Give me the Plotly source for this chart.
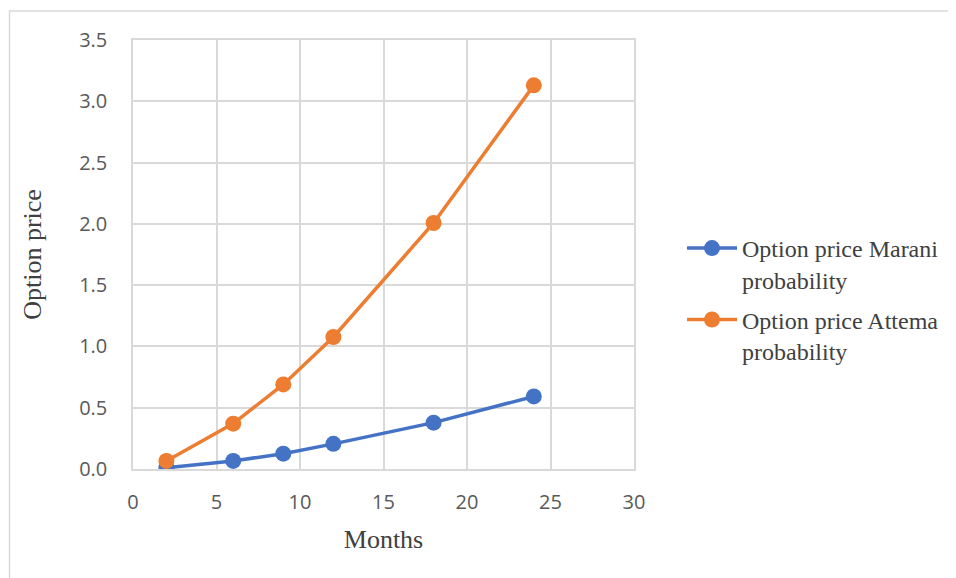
import plotly.graph_objects as go

months = [2, 6, 9, 12, 18, 24]
marani = [0.01, 0.066, 0.125, 0.205, 0.378, 0.592]
attema = [0.066, 0.37, 0.69, 1.077, 2.007, 3.13]
series_names = ["Option price Marani<br>probability", "Option price Attema<br>probability"]

fig = go.Figure()
fig.add_trace(go.Scatter(x=months, y=marani, mode="lines+markers", name=series_names[0],
                         legendgroup="marani",
                         line=dict(color="#4472C4", width=3.5),
                         marker=dict(color="#4472C4", size=16)))
fig.add_trace(go.Scatter(x=months, y=attema, mode="lines+markers", name=series_names[1],
                         legendgroup="attema",
                         line=dict(color="#ED7D31", width=3.5),
                         marker=dict(color="#ED7D31", size=16)))

# page has an 8px body margin; work in figure coordinates
OFF = 8
W, H = 956 - OFF, 578 - OFF
L, T = 133 - OFF, 40 - OFF
R = W - (634 - OFF)
B = H - (469 - OFF)
pw, ph = W - L - R, H - T - B

def px(xp):
    return (xp - OFF - L) / pw

def py(yp):
    return (H - B - (yp - OFF)) / ph

fig.update_layout(
    width=W, height=H,
    margin=dict(l=L, r=R, t=T, b=B),
    paper_bgcolor="white", plot_bgcolor="white",
    showlegend=True,
    legend=dict(x=px(682), y=py(226), xanchor="left", yanchor="top", valign="top",
                font=dict(family="Liberation Serif", size=24, color="#404040"),
                tracegroupgap=6, itemwidth=50),
    xaxis=dict(range=[0, 30], tickvals=[0, 5, 10, 15, 20, 25, 30], showgrid=True,
               gridcolor="#d9d9d9", gridwidth=1.5, zeroline=False, showline=True,
               linecolor="#d9d9d9", linewidth=1.5, mirror=True, ticks="", ticklen=0,
               ticklabelstandoff=14,
               tickfont=dict(family="Open Sans", size=20, color="#595959"),
               title=dict(text="Months", font=dict(family="Liberation Serif", size=26, color="#404040"), standoff=16)),
    yaxis=dict(range=[0, 3.5], tickvals=[0, 0.5, 1, 1.5, 2, 2.5, 3, 3.5], tickformat=".1f",
               showgrid=True, gridcolor="#d9d9d9", gridwidth=1.5, zeroline=False, showline=True,
               linecolor="#d9d9d9", linewidth=1.5, mirror=True, ticks="", ticklen=0,
               ticklabelstandoff=20,
               tickfont=dict(family="Open Sans", size=20, color="#595959"),
               title=dict(text="Option price", font=dict(family="Liberation Serif", size=26, color="#404040"), standoff=30)),
)

fig.add_shape(type="rect", xref="paper", yref="paper",
              x0=px(9.5), x1=px(953),
              y0=py(600), y1=py(11),
              line=dict(color="#d9d9d9", width=1.5), fillcolor="rgba(0,0,0,0)", layer="below")

fig.write_html("out.html")
